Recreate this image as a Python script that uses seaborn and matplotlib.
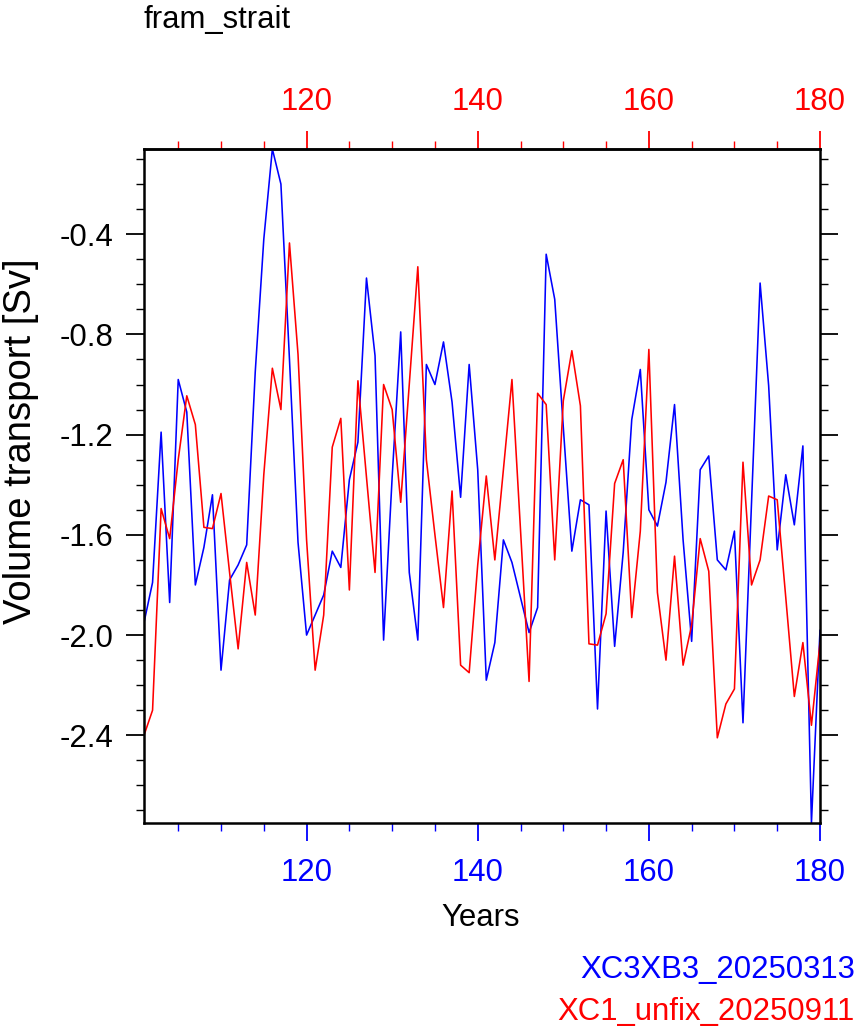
import numpy as np
import pandas as pd
import seaborn as sns
import matplotlib
matplotlib.use("Agg")
import matplotlib.pyplot as plt
from matplotlib.ticker import MultipleLocator, FixedLocator, FixedFormatter

# ---------------- data ----------------
years = list(range(101, 181))

name_blue = "XC3XB3_20250313"
name_red = "XC1_unfix_20250911"

blue = [-1.95, -1.79, -1.19, -1.87, -0.98, -1.11, -1.80, -1.65, -1.44, -2.14,
        -1.78, -1.72, -1.64, -0.95, -0.42, -0.06, -0.20, -0.90, -1.63, -2.00,
        -1.92, -1.84, -1.665, -1.73, -1.38, -1.23, -0.575, -0.885, -2.02, -1.37,
        -0.79, -1.75, -2.02, -0.92, -1.00, -0.83, -1.07, -1.45, -0.92, -1.34,
        -2.18, -2.03, -1.62, -1.71, -1.85, -1.99, -1.89, -0.48, -0.66, -1.17,
        -1.665, -1.46, -1.48, -2.295, -1.505, -2.045, -1.67, -1.14, -0.94, -1.50,
        -1.565, -1.39, -1.08, -1.62, -2.025, -1.34, -1.285, -1.70, -1.74, -1.585,
        -2.35, -1.47, -0.595, -1.005, -1.66, -1.36, -1.56, -1.245, -2.75, -1.98]

red = [-2.40, -2.30, -1.495, -1.615, -1.30, -1.045, -1.16, -1.57, -1.575, -1.435,
       -1.75, -2.055, -1.71, -1.92, -1.36, -0.935, -1.10, -0.435, -0.88, -1.62,
       -2.14, -1.92, -1.25, -1.135, -1.82, -0.985, -1.37, -1.75, -1.00, -1.10,
       -1.47, -1.00, -0.53, -1.30, -1.60, -1.89, -1.425, -2.12, -2.15, -1.72,
       -1.365, -1.70, -1.34, -0.98, -1.58, -2.185, -1.035, -1.08, -1.70, -1.065,
       -0.865, -1.085, -2.035, -2.04, -1.915, -1.395, -1.30, -1.93, -1.585, -0.86,
       -1.83, -2.10, -1.685, -2.12, -1.96, -1.615, -1.745, -2.41, -2.275, -2.215,
       -1.31, -1.80, -1.70, -1.445, -1.46, -1.85, -2.245, -2.03, -2.36, -2.03]

x_ticks = [120, 140, 160, 180]
x_tick_labels = ["120", "140", "160", "180"]
y_ticks = [-2.4, -2.0, -1.6, -1.2, -0.8, -0.4]
y_tick_labels = ["-2.4", "-2.0", "-1.6", "-1.2", "-0.8", "-0.4"]

title = "fram_strait"
x_label = "Years"
y_label = "Volume transport [Sv]"

# ---------------- style ----------------
sns.set_theme(style="white")
plt.rcParams["font.family"] = ["Liberation Sans", "DejaVu Sans"]
plt.rcParams["axes.unicode_minus"] = False

FS = 22.4
FS_Y = 27.5
BLUE = "#0000FF"
RED = "#FF0000"

fig = plt.figure(figsize=(8.58, 10.35), dpi=100)
ax = fig.add_axes([144 / 858, (1035 - 823) / 1035, (820 - 144) / 858, (823 - 149) / 1035])

df = pd.DataFrame({
    "Years": years + years,
    "transport": blue + red,
    "run": [name_blue] * len(years) + [name_red] * len(years),
})
sns.lineplot(data=df, x="Years", y="transport", hue="run",
             hue_order=[name_blue, name_red],
             palette={name_blue: BLUE, name_red: RED},
             estimator=None, linewidth=1.15, legend=False, ax=ax)

ax.set_xlim(min(years), max(years))
allv = blue + red
ax.set_ylim(min(allv), max(allv))

for s in ax.spines.values():
    s.set_color("black")
    s.set_linewidth(1.8)
    s.set_visible(True)

# bottom x-axis (blue)
ax.xaxis.set_major_locator(FixedLocator(x_ticks))
ax.xaxis.set_major_formatter(FixedFormatter(x_tick_labels))
ax.xaxis.set_minor_locator(MultipleLocator(5))
ax.tick_params(axis="x", which="both", bottom=True, top=False, direction="out",
               colors=BLUE, labelsize=FS)
ax.tick_params(axis="x", which="major", length=13, width=1.3, pad=12)
ax.tick_params(axis="x", which="minor", length=6, width=1.0)

# y-axis (black), ticks on both sides, labels left
ax.yaxis.set_major_locator(FixedLocator(y_ticks))
ax.yaxis.set_major_formatter(FixedFormatter(y_tick_labels))
ax.yaxis.set_minor_locator(MultipleLocator(0.1))
ax.tick_params(axis="y", which="both", left=True, right=True, labelleft=True,
               labelright=False, direction="out", colors="black", labelsize=FS)
ax.tick_params(axis="y", which="major", length=13, width=1.3, pad=9)
ax.tick_params(axis="y", which="minor", length=6, width=1.0)

# top x-axis (red)
sec = ax.secondary_xaxis("top")
sec.xaxis.set_major_locator(FixedLocator(x_ticks))
sec.xaxis.set_major_formatter(FixedFormatter(x_tick_labels))
sec.xaxis.set_minor_locator(MultipleLocator(5))
sec.tick_params(axis="x", which="both", direction="out", colors=RED, labelsize=FS)
sec.tick_params(axis="x", which="major", length=13, width=1.3, pad=10)
sec.tick_params(axis="x", which="minor", length=6, width=1.0)
sec.spines["top"].set_color("black")
sec.spines["top"].set_linewidth(1.8)

ax.set_xlabel("")
ax.set_ylabel("")
fig.text(481 / 858, 1 - 918 / 1035, x_label, ha="center", va="center", fontsize=FS, color="black")
fig.text(21 / 858, 1 - 441 / 1035, y_label, ha="center", va="center", rotation=90,
         fontsize=FS_Y, color="black")
fig.text(144 / 858, 1 - 28 / 1035, title, ha="left", va="baseline", fontsize=FS, color="black")

fig.text(855 / 858, 1 - 978 / 1035, name_blue, ha="right", va="baseline", fontsize=FS, color=BLUE)
fig.text(855 / 858, 1 - 1020 / 1035, name_red, ha="right", va="baseline", fontsize=FS, color=RED)

fig.savefig("out.png", dpi=100)
